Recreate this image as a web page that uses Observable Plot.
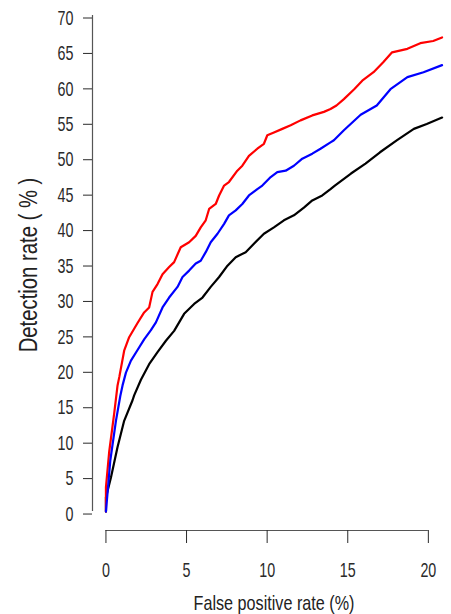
<!DOCTYPE html>
<html><head><meta charset="utf-8">
<script src="https://cdn.jsdelivr.net/npm/d3@7"></script>
<script src="https://cdn.jsdelivr.net/npm/@observablehq/plot@0.6"></script>
<style>body{margin:0;background:#fff}</style>
</head><body><div id="chart"></div>
<script>
const xTicks = [0, 5, 10, 15, 20];
const yTicks = [0, 5, 10, 15, 20, 25, 30, 35, 40, 45, 50, 55, 60, 65, 70];
const xLabel = "False positive rate (%)";
const yLabel = "Detection rate ( % )";

// red curve
const redFpr = [0,0,0.2,0.52,0.72,0.83,1.13,1.44,1.75,1.96,2.37,2.68,2.89,3.2,3.51,3.92,4.23,4.64,5.16,5.57,5.88,6.19,6.4,6.81,7.02,7.33,7.63,8.15,8.46,8.87,9.39,9.8,10.01,10.42,10.94,11.46,12.07,12.8,13.52,13.93,14.3,14.76,15.4,15.9,16.6,17.2,17.75,18.7,19.5,20.3,20.85];
const redTpr = [0,3.4,8.4,14,17.8,19,22.7,24.6,25.8,26.6,28.1,28.8,31.0,32.1,33.5,34.5,35.2,37.3,38.0,38.9,40.1,41.1,42.7,43.4,44.6,46.0,46.5,48.1,48.8,50.2,51.2,51.9,53.1,53.5,54.0,54.5,55.2,55.9,56.4,56.8,57.3,58.2,59.6,60.8,62.0,63.4,64.8,65.3,66.1,66.4,66.9];
// blue curve
const blueFpr = [0,0.27,0.62,0.89,1.03,1.24,1.55,1.96,2.37,2.79,3.1,3.51,3.92,4.44,4.75,5.16,5.57,5.88,6.19,6.5,6.92,7.33,7.63,8.05,8.46,8.87,9.39,9.7,10.22,10.63,11.15,11.66,12.18,12.8,13.31,13.93,14.14,14.76,15.8,16.8,17.65,18.7,19.7,20.85];
const blueTpr = [0,7.2,12.8,16.3,17.8,19.6,21.3,22.8,24.3,25.6,26.7,28.8,30.2,31.7,33.1,34.0,35.0,35.4,36.6,38.0,39.2,40.6,41.8,42.5,43.4,44.6,45.5,46.0,47.2,47.9,48.1,48.8,49.8,50.5,51.2,52.1,52.4,53.8,56.0,57.3,59.6,61.3,62.0,63.0];
// black curve
const blackFpr = [0,0,0.31,0.72,1.13,1.65,1.75,2.17,2.68,3.2,3.72,4.23,4.85,5.47,5.99,6.5,7.02,7.54,8.05,8.67,9.18,9.8,10.42,11.04,11.66,12.28,12.8,13.42,13.93,14.2,15.2,16.1,17.0,18.06,19.1,19.9,20.85];
const blackTpr = [0,2.0,4.8,9.1,12.8,15.7,16.4,18.6,20.8,22.5,24.1,25.5,27.9,29.3,30.2,31.7,33.1,34.7,35.9,36.6,37.8,39.2,40.1,41.1,41.8,42.9,43.9,44.6,45.5,46.0,47.7,49.1,50.7,52.4,54.0,54.7,55.6];

const seriesNames = ["black", "red", "blue"];
const seriesColors = ["#000000", "#d42a22", "#1a1aff"];
const seriesX = [blackFpr, redFpr, blueFpr];
const seriesY = [blackTpr, redTpr, blueTpr];

const rows = seriesNames.flatMap((s, k) => seriesX[k].map((x, i) => ({series: s, fpr: x, tpr: seriesY[k][i]})));

// R-style 4% extension of the data range for the plot region
const xMax = d3.max(rows, d => d.fpr), yMax = d3.max(rows, d => d.tpr);
const x0 = -0.04 * xMax, y0 = -0.04 * yMax;

const font = "'Liberation Sans', Arial, sans-serif";

const chart = Plot.plot({
  width: 451, height: 614,
  marginLeft: 92, marginRight: -4, marginTop: 15, marginBottom: 84,
  x: {domain: [x0, xMax * 1.04]},
  y: {domain: [y0, yTicks[yTicks.length - 1]]},
  color: {domain: seriesNames, range: seriesColors},
  style: {fontFamily: font, background: "#fff", overflow: "visible"},
  marks: [
    Plot.ruleX([x0], {y1: yTicks[0], y2: yTicks[yTicks.length - 1], stroke: "#555", strokeWidth: 1.2}),
    Plot.ruleY([y0], {x1: xTicks[0], x2: xTicks[xTicks.length - 1], stroke: "#555", strokeWidth: 1.2}),
    Plot.axisY(yTicks, {anchor: "left", tickSize: 9, tickPadding: 10, fontSize: 21, label: null, color: "#2a2a2a", dy: 2.5}),
    Plot.axisX(xTicks, {anchor: "bottom", tickSize: 13, tickPadding: 19, fontSize: 21, label: null, color: "#2a2a2a"}),
    Plot.line(rows, {x: "fpr", y: "tpr", z: "series", stroke: "series", strokeWidth: 2.2}),
    Plot.text([xLabel], {text: d => d, frameAnchor: "bottom", dy: 72.5, fontSize: 21, fill: "#222", textAnchor: "middle", lineAnchor: "middle"}),
    Plot.text([yLabel], {text: d => d, frameAnchor: "left", rotate: -90, dx: -64, dy: -8, fontSize: 26, fill: "#222", textAnchor: "middle", lineAnchor: "middle"})
  ]
});
document.getElementById("chart").appendChild(chart);

// condense glyphs horizontally (the reference uses a narrow sans face)
chart.querySelectorAll("text").forEach(t => {
  const g = t.closest("g[aria-label]");
  const lbl = g ? g.getAttribute("aria-label") : "";
  const f = /tick label/.test(lbl) ? 0.68 : (t.textContent === yLabel ? 0.78 : 0.77);
  const len = t.getComputedTextLength();
  if (len > 0) {
    t.setAttribute("textLength", (len * f).toFixed(2));
    t.setAttribute("lengthAdjust", "spacingAndGlyphs");
  }
});
</script>
</body></html>
